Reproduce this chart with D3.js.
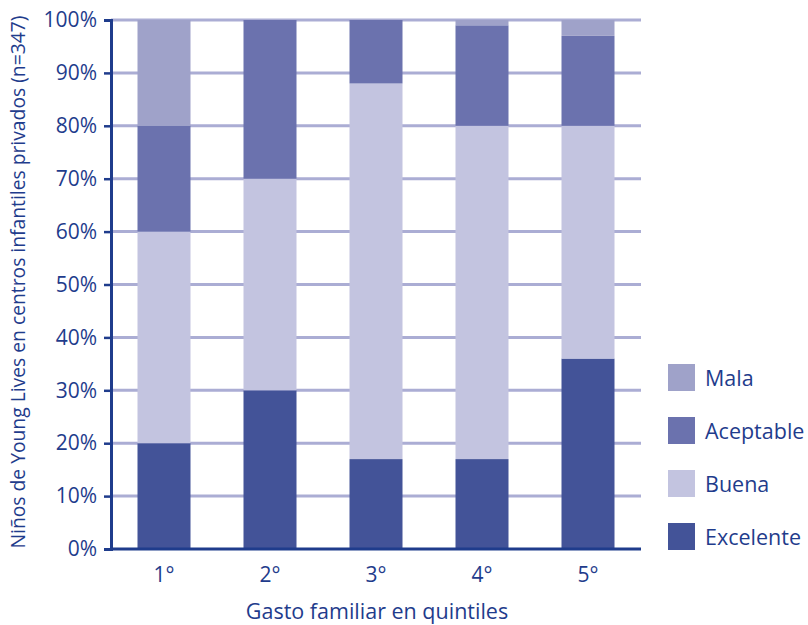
<!DOCTYPE html>
<html><head><meta charset="utf-8">
<script src="https://cdn.jsdelivr.net/npm/d3@7"></script>
<style>body{margin:0;background:#fff}svg{display:block}text{font-family:"Open Sans","Noto Sans",sans-serif;fill:#1f3c8c}</style>
</head><body>
<svg id="c" width="808" height="625"></svg>
<script>
const categories = ["1°","2°","3°","4°","5°"];
const excelente = [20, 30, 17, 17, 36];
const buena     = [40, 40, 71, 63, 44];
const aceptable = [20, 30, 12, 19, 17];
const mala      = [20, 0, 0, 1, 3];
const seriesNames = ["Excelente","Buena","Aceptable","Mala"];
const yTicks = [0,10,20,30,40,50,60,70,80,90,100];

const colors = {Excelente:"#435398", Buena:"#c3c4e0", Aceptable:"#6b72ae", Mala:"#9fa2c9"};
const rows = categories.map((c,i)=>({cat:c, Excelente:excelente[i], Buena:buena[i], Aceptable:aceptable[i], Mala:mala[i]}));

const svg = d3.select("#c");
const m = {l:111, r:641, t:20, b:549};
const x = d3.scaleBand().domain(categories).range([m.l, m.r]).paddingInner(0.5).paddingOuter(0.25);
const y = d3.scaleLinear().domain([0,100]).range([m.b, m.t]);

// gridlines
svg.append("g").selectAll("line").data(yTicks.filter(d=>d>0)).join("line")
  .attr("x1", m.l).attr("x2", m.r).attr("y1", d=>y(d)).attr("y2", d=>y(d))
  .attr("stroke","#abadd4").attr("stroke-width",3);

const stack = d3.stack().keys(seriesNames)(rows);
svg.append("g").selectAll("g").data(stack).join("g")
  .attr("fill", d=>colors[d.key])
  .selectAll("rect").data(d=>d).join("rect")
  .attr("x", d=>x(d.data.cat)).attr("width", x.bandwidth())
  .attr("y", d=>y(d[1])).attr("height", d=>y(d[0])-y(d[1]));

// y axis
const ya = svg.append("g").attr("transform",`translate(${m.l},0)`)
  .call(d3.axisLeft(y).tickValues(yTicks).tickFormat(d=>d+"%").tickSize(7).tickPadding(7));
ya.select(".domain").attr("stroke","#1f3c8c").attr("stroke-width",3);
ya.selectAll(".tick line").attr("stroke","#1f3c8c").attr("stroke-width",2.5);
ya.selectAll(".tick text").style("font-size","21px").style("fill","#1f3c8c").attr("font-family",null);

// x axis
const xa = svg.append("g").attr("transform",`translate(0,${m.b})`)
  .call(d3.axisBottom(x).tickSize(0).tickPadding(18));
xa.select(".domain").attr("stroke","#1f3c8c").attr("stroke-width",3).attr("d",`M${m.l},0H${m.r}`);
xa.selectAll(".tick text").style("font-size","21px").style("fill","#1f3c8c").attr("font-family",null);

svg.append("text").attr("x",377).attr("y",619).attr("text-anchor","middle")
  .style("font-size","21.5px").text("Gasto familiar en quintiles");
svg.append("text").attr("transform","translate(25,282) rotate(-90)").attr("text-anchor","middle")
  .style("font-size","19.3px").text("Niños de Young Lives en centros infantiles privados (n=347)");

// legend
const legOrder = ["Mala","Aceptable","Buena","Excelente"];
const lg = svg.append("g").selectAll("g").data(legOrder).join("g")
  .attr("transform",(d,i)=>`translate(668,${364+i*53})`);
lg.append("rect").attr("width",27).attr("height",27).attr("fill",d=>colors[d]);
lg.append("text").attr("x",37).attr("y",22).style("font-size","21.5px").text(d=>d);
</script>
</body></html>
